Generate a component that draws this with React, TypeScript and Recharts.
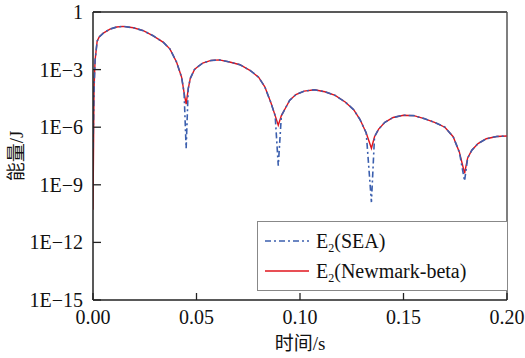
import React from "react";
import {
    LineChart,
    Line,
    XAxis,
    YAxis,
    Legend,
    ReferenceLine
} from "recharts";

// time (s)
const time = [
    0, 0.0005, 0.001, 0.002, 0.003, 0.005, 0.0082, 0.0115, 0.0145, 0.0195, 0.0243, 0.0291, 0.034, 0.0372, 0.0404, 0.0428, 0.044, 0.045,
    0.046, 0.047, 0.049, 0.05, 0.053, 0.057, 0.061, 0.066, 0.071, 0.076, 0.08, 0.083, 0.086, 0.088, 0.0895,
    0.091, 0.093, 0.095, 0.098, 0.102, 0.107, 0.112, 0.117, 0.122, 0.126, 0.129, 0.132, 0.1345,
    0.136, 0.138, 0.141, 0.145, 0.15, 0.155, 0.16, 0.165, 0.17, 0.174, 0.177, 0.1795,
    0.181, 0.183, 0.186, 0.19, 0.195, 0.2
];

// E2 (Newmark-beta), J
const newmarkEnergy = [
    5e-11, 1e-4, 3e-3, 3e-2, 5e-2, 8e-2, 0.129, 0.166, 0.178, 0.151, 0.107, 0.0575, 0.0263, 0.0117, 2.4e-3, 4e-4, 6.3e-5, 1.6e-5,
    1e-4, 3.5e-4, 1e-3, 1.26e-3, 2.2e-3, 3e-3, 3.2e-3, 2.5e-3, 1.8e-3, 8.9e-4, 4e-4, 1.26e-4, 1.8e-5, 4e-6, 1.26e-6,
    4e-6, 1e-5, 2.5e-5, 5e-5, 7.6e-5, 8.9e-5, 7e-5, 4.5e-5, 2e-5, 8e-6, 2.5e-6, 5e-7, 8e-8,
    3.2e-7, 8e-7, 1.8e-6, 3.2e-6, 4.2e-6, 4e-6, 2.8e-6, 1.8e-6, 1e-6, 3.2e-7, 5e-8, 4e-9,
    2.5e-8, 6.3e-8, 1.4e-7, 2.5e-7, 3.3e-7, 3.5e-7
];

// E2 (SEA), J
const seaEnergy = [
    8e-8, 1e-4, 3e-3, 3e-2, 5e-2, 8e-2, 0.129, 0.166, 0.178, 0.151, 0.107, 0.0575, 0.0263, 0.0117, 2.4e-3, 4e-4, 6.3e-5, 8e-8,
    1e-4, 3.5e-4, 1e-3, 1.26e-3, 2.2e-3, 3e-3, 3.2e-3, 2.5e-3, 1.8e-3, 8.9e-4, 4e-4, 1.26e-4, 1.8e-5, 4e-6, 1e-8,
    4e-6, 1e-5, 2.5e-5, 5e-5, 7.6e-5, 8.9e-5, 7e-5, 4.5e-5, 2e-5, 8e-6, 2.5e-6, 5e-7, 1.26e-10,
    3.2e-7, 8e-7, 1.8e-6, 3.2e-6, 4.2e-6, 4e-6, 2.8e-6, 1.8e-6, 1e-6, 3.2e-7, 5e-8, 1.6e-9,
    2.5e-8, 6.3e-8, 1.4e-7, 2.5e-7, 3.3e-7, 3.5e-7
];

const xTicks = [0, 0.05, 0.1, 0.15, 0.2];
const yTicks = [1e-15, 1e-12, 1e-9, 1e-6, 1e-3, 1];

const data = time.map((t, i) => ({ t, sea: seaEnergy[i], newmark: newmarkEnergy[i] }));

const FONT = "'Liberation Serif', 'Times New Roman', 'Noto Sans CJK SC', serif";
const AXIS = "#222";

const fmtY = (v: number) => (v >= 1 ? "1" : "1E\u2212" + Math.round(-Math.log10(v)));

const YTick = ({ x, y, payload }: any) => (
    <g>
        <line x1={x + 10} x2={x + 18} y1={y} y2={y} stroke={AXIS} strokeWidth={1.3} />
        <text x={x} y={y} dy={7} textAnchor="end" fontSize={20} fontFamily={FONT} fill="#111">
            {fmtY(payload.value)}
        </text>
    </g>
);

const XTick = ({ x, y, payload }: any) => (
    <g>
        <line x1={x} x2={x} y1={y} y2={y - 7} stroke={AXIS} strokeWidth={1.3} />
        <text x={x} y={y + 24} textAnchor="middle" fontSize={20} fontFamily={FONT} fill="#111">
            {payload.value.toFixed(2)}
        </text>
    </g>
);

const YLabel = ({ viewBox }: any) => {
    const cx = viewBox.x + 16;
    const cy = viewBox.y + viewBox.height / 2;
    return (
        <text x={cx} y={cy} transform={`rotate(-90, ${cx}, ${cy})`} textAnchor="middle" dy={7}
            fontSize={19} fontFamily={FONT} fill="#111">
            能量/J
        </text>
    );
};

const XLabel = ({ viewBox }: any) => (
    <text x={viewBox.x + viewBox.width / 2} y={viewBox.y + 50} textAnchor="middle"
        fontSize={19} fontFamily={FONT} fill="#111">
        时间/s
    </text>
);

const LegendBox = () => (
    <div style={{
        width: 251, height: 70, boxSizing: "border-box", border: "1.5px solid #888",
        background: "#fff", fontFamily: FONT, fontSize: 20, color: "#111", position: "relative"
    }}>
        {[
            { name: "SEA", color: "#3b5fae", dash: "6 3 2 3" },
            { name: "Newmark-beta", color: "#e0141c", dash: undefined }
        ].map((e, i) => (
            <div key={e.name} style={{ position: "absolute", left: 7, top: 6 + i * 30, height: 26, display: "flex", alignItems: "center", whiteSpace: "nowrap" }}>
                <svg width={44} height={10} style={{ marginRight: 7 }}>
                    <line x1={0} x2={44} y1={5} y2={5} stroke={e.color} strokeWidth={1.4} strokeDasharray={e.dash} />
                </svg>
                <span>E<sub style={{ fontSize: 12, verticalAlign: "-4px", lineHeight: 0 }}>2</sub>({e.name})</span>
            </div>
        ))}
    </div>
);

export default function App() {
    return (
        <div style={{ position: "absolute", left: 0, top: 0, width: 525, height: 358, background: "#fff" }}>
            <LineChart width={525} height={358} data={data} margin={{ top: 12, right: 18, left: 0, bottom: 0 }}>
                <XAxis
                    dataKey="t"
                    type="number"
                    domain={[0, 0.2]}
                    ticks={xTicks}
                    height={58}
                    tickSize={0}
                    tickMargin={0}
                    tickLine={false}
                    axisLine={{ stroke: AXIS, strokeWidth: 1.5 }}
                    tick={<XTick />}
                    label={<XLabel />}
                    allowDataOverflow
                />
                <YAxis
                    scale="log"
                    domain={[1e-15, 1]}
                    ticks={yTicks}
                    width={93}
                    tickSize={0}
                    tickMargin={10}
                    tickLine={false}
                    axisLine={{ stroke: AXIS, strokeWidth: 1.5 }}
                    tick={<YTick />}
                    label={<YLabel />}
                    allowDataOverflow
                />
                <ReferenceLine y={1} stroke={AXIS} strokeWidth={1.5} />
                <ReferenceLine x={0.2} stroke="#555" strokeWidth={1.5} />
                <Legend
                    layout="vertical"
                    align="center"
                    verticalAlign="middle"
                    content={<LegendBox />}
                    wrapperStyle={{ left: 257, top: 221, width: 251, height: 70 }}
                />
                <Line
                    dataKey="newmark"
                    type="linear"
                    stroke="#e0141c"
                    strokeWidth={1.4}
                    dot={false}
                    isAnimationActive={false}
                />
                <Line
                    dataKey="sea"
                    type="linear"
                    stroke="#3b5fae"
                    strokeWidth={1.6}
                    strokeDasharray="6 3 2 3"
                    dot={false}
                    isAnimationActive={false}
                />
            </LineChart>
        </div>
    );
}
